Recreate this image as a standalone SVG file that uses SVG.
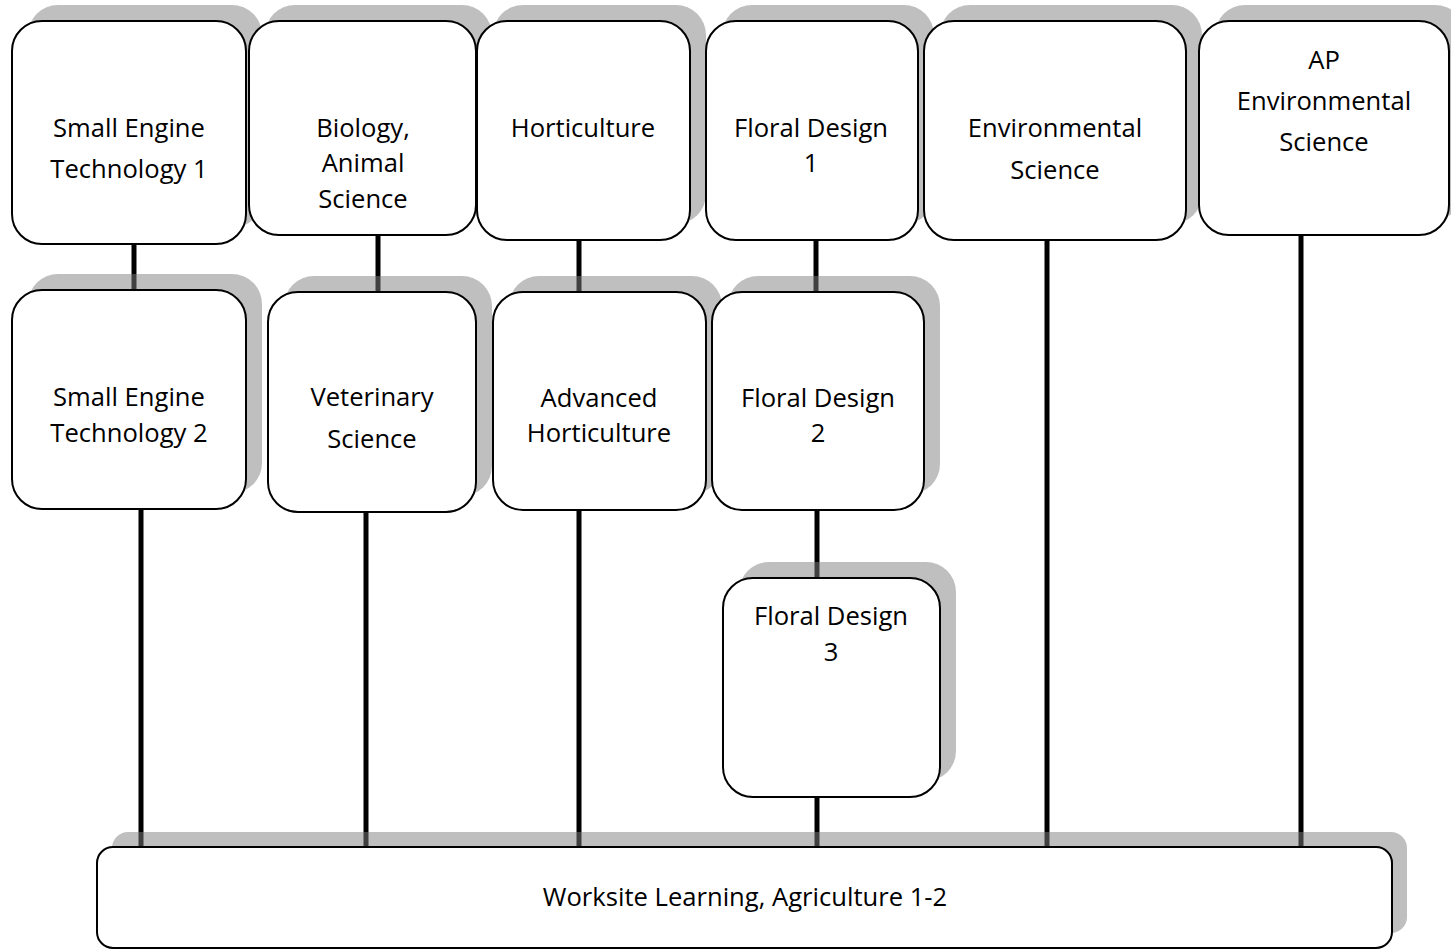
<svg xmlns="http://www.w3.org/2000/svg" width="1451" height="950" viewBox="0 0 1451 950">
<style>
.sh{fill:#808080;fill-opacity:0.5}
.nd{fill:#fff;stroke:#000;stroke-width:2}
.c{stroke:#000;stroke-width:5;fill:none}
text{font-family:"Open Sans","Noto Sans",sans-serif;font-size:25.6px;fill:#000;text-anchor:middle}
</style>
<rect width="1451" height="950" fill="#fff"/>
<g id="connectors">
<line class="c" x1="134" y1="244" x2="134" y2="290"/>
<line class="c" x1="378" y1="235" x2="378" y2="292"/>
<line class="c" x1="579" y1="240" x2="579" y2="292"/>
<line class="c" x1="816" y1="240" x2="816" y2="292"/>
<line class="c" x1="817" y1="510" x2="817" y2="578"/>
<line class="c" x1="141" y1="509" x2="141" y2="848"/>
<line class="c" x1="366" y1="512" x2="366" y2="850"/>
<line class="c" x1="579" y1="510" x2="579" y2="850"/>
<line class="c" x1="817" y1="797" x2="817" y2="848"/>
<line class="c" x1="1047" y1="240" x2="1047" y2="848"/>
<line class="c" x1="1301" y1="235" x2="1301" y2="848"/>
</g>
<g id="n1"><rect class="sh" x="28" y="5" width="234" height="223" rx="30"/><rect class="nd" x="12" y="21" width="234" height="223" rx="30"/><text x="129" y="137">Small Engine</text><text x="129" y="178">Technology 1</text></g>
<g id="n2"><rect class="sh" x="265" y="5" width="227" height="214" rx="30"/><rect class="nd" x="249" y="21" width="227" height="214" rx="30"/><text x="363" y="137">Biology,</text><text x="363" y="172">Animal</text><text x="363" y="208">Science</text></g>
<g id="n3"><rect class="sh" x="493" y="5" width="213" height="219" rx="30"/><rect class="nd" x="477" y="21" width="213" height="219" rx="30"/><text x="583" y="137">Horticulture</text></g>
<g id="n4"><rect class="sh" x="722" y="5" width="212" height="219" rx="30"/><rect class="nd" x="706" y="21" width="212" height="219" rx="30"/><text x="811" y="137">Floral Design</text><text x="811" y="172">1</text></g>
<g id="n5"><rect class="sh" x="940" y="5" width="262" height="219" rx="30"/><rect class="nd" x="924" y="21" width="262" height="219" rx="30"/><text x="1055" y="137">Environmental</text><text x="1055" y="179">Science</text></g>
<g id="n6"><rect class="sh" x="1215" y="5" width="250" height="214" rx="30"/><rect class="nd" x="1199" y="21" width="250" height="214" rx="30"/><text x="1324" y="69">AP</text><text x="1324" y="110">Environmental</text><text x="1324" y="151">Science</text></g>
<g id="n7"><rect class="sh" x="28" y="274" width="234" height="219" rx="30"/><rect class="nd" x="12" y="290" width="234" height="219" rx="30"/><text x="129" y="406">Small Engine</text><text x="129" y="442">Technology 2</text></g>
<g id="n8"><rect class="sh" x="284" y="276" width="208" height="220" rx="30"/><rect class="nd" x="268" y="292" width="208" height="220" rx="30"/><text x="372" y="406">Veterinary</text><text x="372" y="448">Science</text></g>
<g id="n9"><rect class="sh" x="509" y="276" width="213" height="218" rx="30"/><rect class="nd" x="493" y="292" width="213" height="218" rx="30"/><text x="599" y="407">Advanced</text><text x="599" y="442">Horticulture</text></g>
<g id="n10"><rect class="sh" x="728" y="276" width="212" height="218" rx="30"/><rect class="nd" x="712" y="292" width="212" height="218" rx="30"/><text x="818" y="407">Floral Design</text><text x="818" y="442">2</text></g>
<g id="n11"><rect class="sh" x="739" y="562" width="217" height="219" rx="30"/><rect class="nd" x="723" y="578" width="217" height="219" rx="30"/><text x="831" y="625">Floral Design</text><text x="831" y="661">3</text></g>
<g id="n12"><rect class="sh" x="112" y="832" width="1295" height="101" rx="16"/><rect class="nd" x="97" y="847" width="1295" height="101" rx="16"/><text x="745" y="906">Worksite Learning, Agriculture 1-2</text></g>
</svg>
